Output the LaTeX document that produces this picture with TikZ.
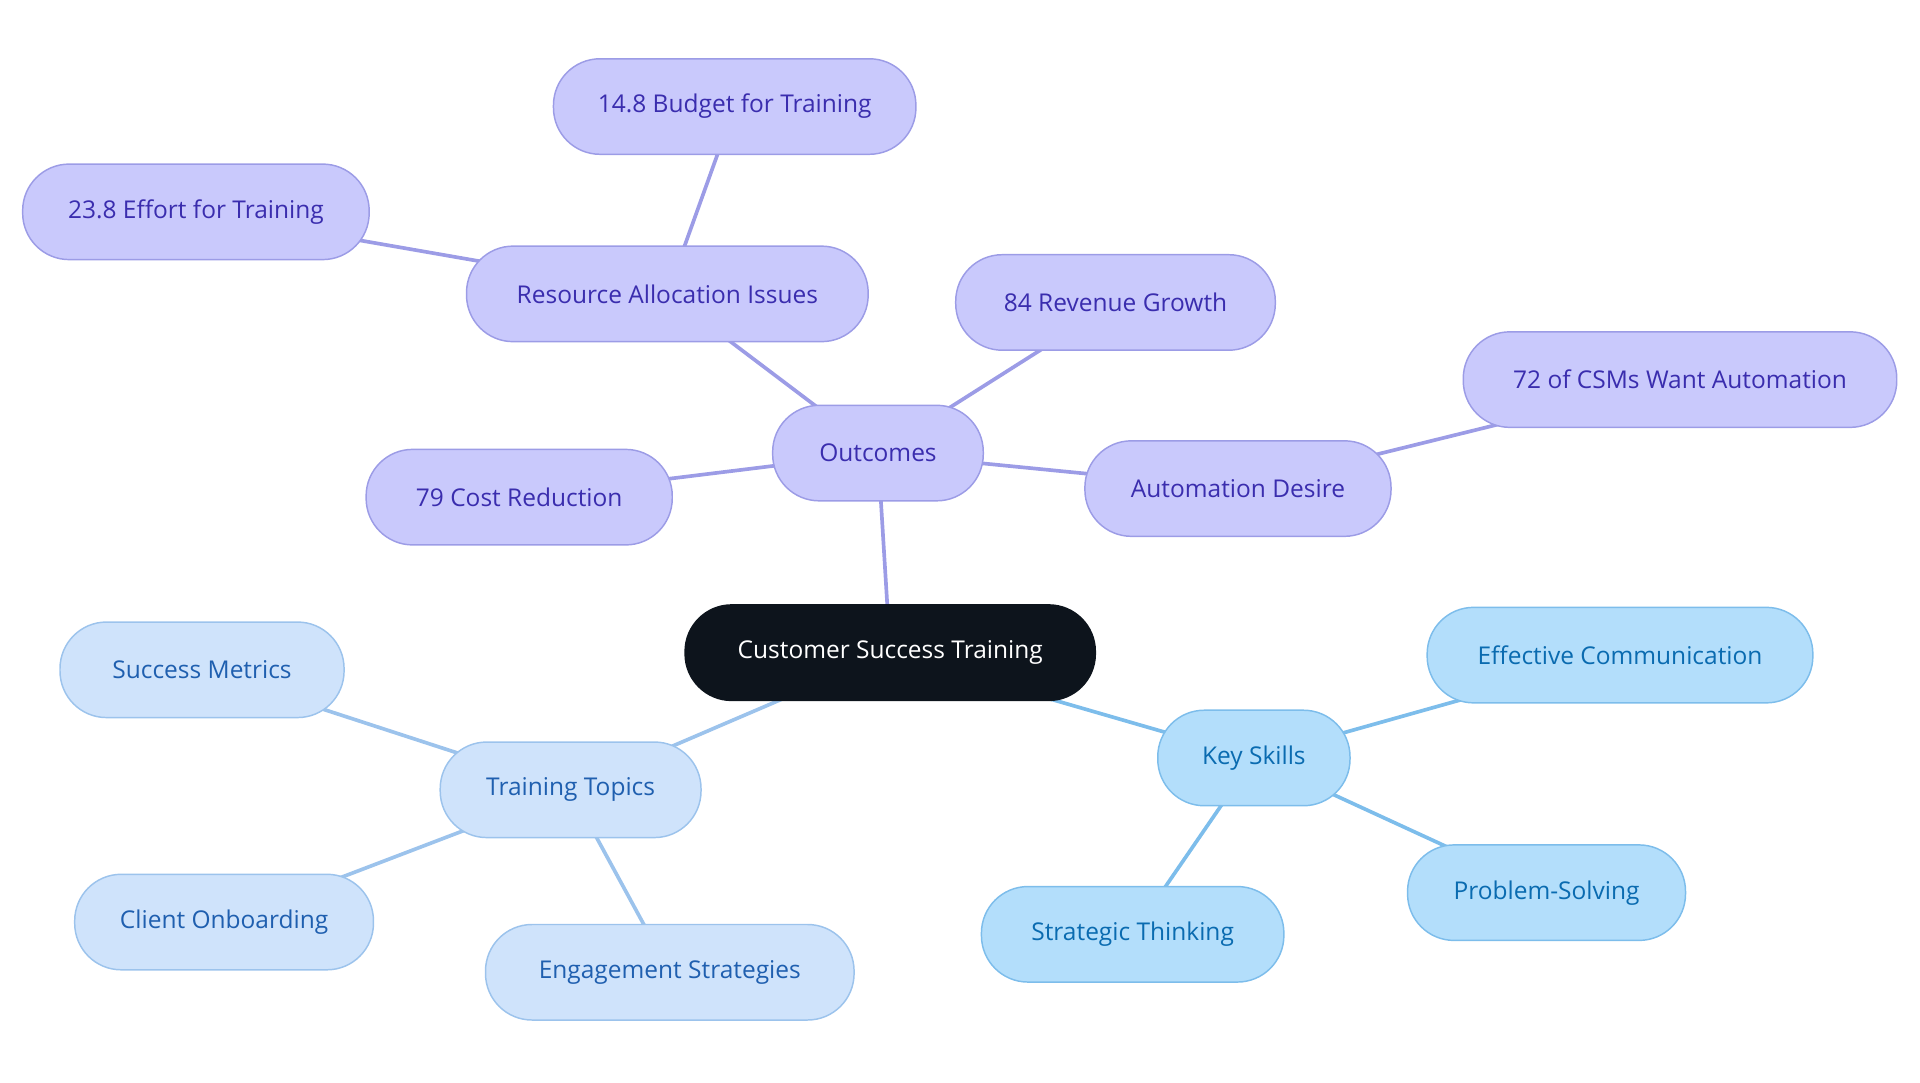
\documentclass[tikz,border=0pt]{standalone}
\usepackage{fontspec}
\setmainfont{Open Sans}
\usetikzlibrary{backgrounds}
\definecolor{pf}{HTML}{C9C9FC}\definecolor{pb}{HTML}{9C9CE6}\definecolor{pt}{HTML}{3A2DAE}
\definecolor{tf}{HTML}{CFE3FB}\definecolor{tb}{HTML}{9CC3EC}\definecolor{tt}{HTML}{1F5FAF}
\definecolor{kf}{HTML}{B3DEFB}\definecolor{kb}{HTML}{7DBDEB}\definecolor{kt}{HTML}{0A6BB0}
\definecolor{cf}{HTML}{0D141C}
\tikzset{
 base/.style={rounded corners=38pt,minimum height=78pt,line width=1.2pt,font=\fontsize{20}{24}\selectfont,inner sep=0pt},
 pn/.style={base,fill=pf,draw=pb,text=pt},
 tn/.style={base,fill=tf,draw=tb,text=tt},
 kn/.style={base,fill=kf,draw=kb,text=kt},
 cn/.style={base,fill=cf,draw=cf,text=white},
 pe/.style={draw=pb,line width=3pt},
 te/.style={draw=tb,line width=3pt},
 ke/.style={draw=kb,line width=3pt},
}
\begin{document}
\begin{tikzpicture}[x=1pt,y=-1pt]
\useasboundingbox (0,0) rectangle (1568,884);
\node[cn,minimum width=335pt] (c) at (727,533) {Customer Success Training};
\node[pn,minimum width=172pt] (o) at (717,370) {Outcomes};
\node[pn,minimum width=328pt] (r) at (545,240) {Resource Allocation Issues};
\node[pn,minimum width=296pt] (b) at (600,87) {14.8 Budget for Training};
\node[pn,minimum width=283pt] (e) at (160,173) {23.8 Effort for Training};
\node[pn,minimum width=261pt] (rg) at (911,247) {84 Revenue Growth};
\node[pn,minimum width=354pt] (cs) at (1372,310) {72 of CSMs Want Automation};
\node[pn,minimum width=250pt] (ad) at (1011,399) {Automation Desire};
\node[pn,minimum width=250pt] (cr) at (424,406) {79 Cost Reduction};
\node[tn,minimum width=213pt] (tt) at (466,645) {Training Topics};
\node[tn,minimum width=232pt] (sm) at (165,547) {Success Metrics};
\node[tn,minimum width=244pt] (co) at (183,753) {Client Onboarding};
\node[tn,minimum width=301pt] (es) at (547,794) {Engagement Strategies};
\node[kn,minimum width=157pt] (ks) at (1024,619) {Key Skills};
\node[kn,minimum width=315pt] (ec) at (1323,535) {Effective Communication};
\node[kn,minimum width=227pt] (ps) at (1263,729) {Problem-Solving};
\node[kn,minimum width=247pt] (st) at (925,763) {Strategic Thinking};
\begin{scope}[on background layer]
\draw[pe] (c.center)--(o.center);
\draw[pe] (o.center)--(r.center);
\draw[pe] (r.center)--(b.center);
\draw[pe] (r.center)--(e.center);
\draw[pe] (o.center)--(rg.center);
\draw[pe] (o.center)--(ad.center);
\draw[pe] (ad.center)--(cs.center);
\draw[pe] (o.center)--(cr.center);
\draw[te] (c.center)--(tt.center);
\draw[te] (tt.center)--(sm.center);
\draw[te] (tt.center)--(co.center);
\draw[te] (tt.center)--(es.center);
\draw[ke] (c.center)--(ks.center);
\draw[ke] (ks.center)--(ec.center);
\draw[ke] (ks.center)--(ps.center);
\draw[ke] (ks.center)--(st.center);
\end{scope}
\end{tikzpicture}
\end{document}
